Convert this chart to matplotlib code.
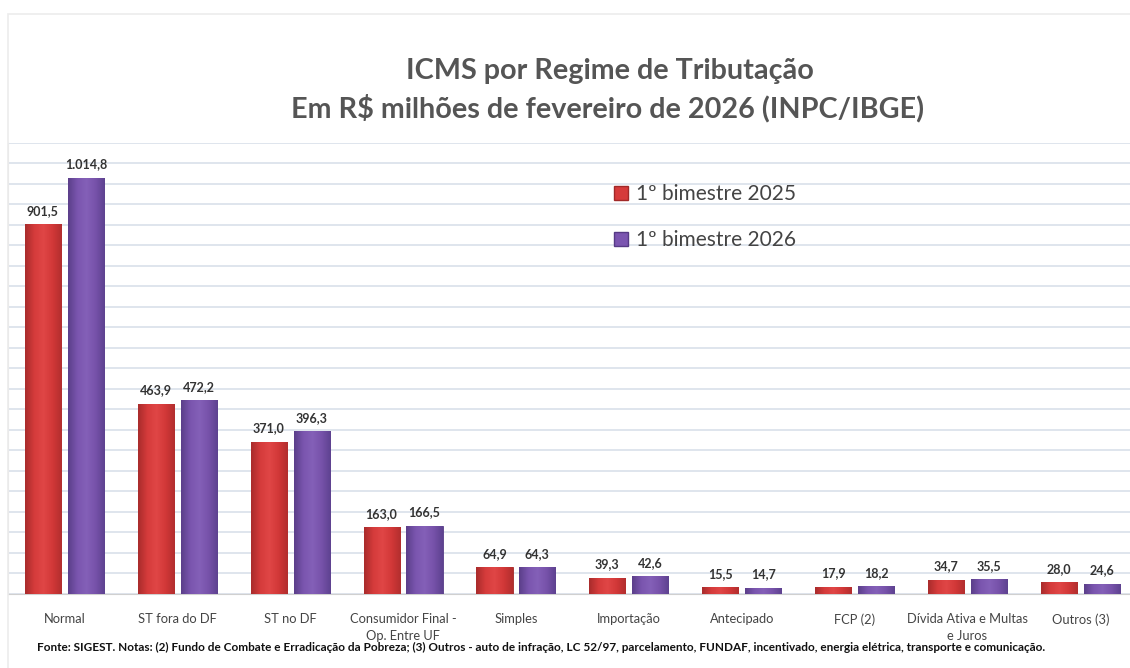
import matplotlib
matplotlib.use("Agg")
import matplotlib.pyplot as plt
import numpy as np
from matplotlib.colors import LinearSegmentedColormap
from matplotlib.patches import Patch, Rectangle

categories = ["Normal", "ST fora do DF", "ST no DF", "Consumidor Final -\nOp. Entre UF",
              "Simples", "Importação", "Antecipado", "FCP (2)",
              "Dívida Ativa e Multas\ne Juros", "Outros (3)"]
vals_2025 = [901.5, 463.9, 371.0, 163.0, 64.9, 39.3, 15.5, 17.9, 34.7, 28.0]
vals_2026 = [1014.8, 472.2, 396.3, 166.5, 64.3, 42.6, 14.7, 18.2, 35.5, 24.6]
series_names = ["1º bimestre 2025", "1º bimestre 2026"]

def fmt(v):
    s = f"{v:,.1f}"
    return s.replace(",", "X").replace(".", ",").replace("X", ".")

plt.rcParams['font.family'] = ['Lato', 'DejaVu Sans']

fig = plt.figure(figsize=(11.3, 6.68), dpi=100)
fig.patch.set_facecolor("white")
fig.patches.append(Rectangle((0.007, -0.01), 0.995, 0.989, transform=fig.transFigure,
                             fill=False, edgecolor="#ececec", linewidth=1.2))
ax = fig.add_axes([0.007, 0.111, 0.999, 0.675])

x = np.arange(len(categories))
w = 0.32
off = 0.19
red = "#d63a3a"
purple = "#7b55b0"
cmap_r = LinearSegmentedColormap.from_list("r", ["#a92c2c", "#d53b3b", "#e04646", "#d23838", "#b22e2e"])
cmap_p = LinearSegmentedColormap.from_list("p", ["#5b3f8a", "#7a55ae", "#8460b8", "#7752aa", "#5e4290"])
b1 = ax.bar(x - off, vals_2025, w, color=red, edgecolor="#a02828", linewidth=0.6, zorder=3)
b2 = ax.bar(x + off, vals_2026, w, color=purple, edgecolor="#563a85", linewidth=0.6, zorder=3)

grad = np.linspace(0, 1, 64).reshape(1, -1)
for bars, cm in ((b1, cmap_r), (b2, cmap_p)):
    for r in bars:
        x0, h, bw = r.get_x(), r.get_height(), r.get_width()
        im = ax.imshow(grad, cmap=cm, aspect="auto", extent=(x0, x0 + bw, 0, h),
                       zorder=3.5, interpolation="bicubic")
        im.set_clip_path(r)

for bars, vals in ((b1, vals_2025), (b2, vals_2026)):
    for r, v in zip(bars, vals):
        ax.text(r.get_x() + r.get_width() / 2, v + 18, fmt(v), ha="center", va="bottom",
                fontsize=9, color="#333333", fontweight="bold")

ax.set_xlim(-0.5, len(categories) - 0.5)
ax.set_ylim(0, 1100)
ax.set_yticks(np.arange(0, 1101, 50))
ax.yaxis.grid(True, color="#d9e0ea", linewidth=1.2, zorder=0)
ax.set_yticklabels([])
ax.tick_params(axis="y", length=0)
ax.set_xticks(x)
ax.set_xticklabels(categories, fontsize=9.3, color="#444444", linespacing=1.5)
ax.tick_params(axis="x", length=0, pad=14)
for s in ["top", "right"]:
    ax.spines[s].set_visible(False)
ax.spines["left"].set_color("#e4e4e4")
ax.spines["bottom"].set_color("#d0d0d0")

fig.text(0.540, 0.893, "ICMS por Regime de Tributação", ha="center", va="center",
         fontsize=20.7, fontweight="bold", color="#555555")
fig.text(0.538, 0.838, "Em R$ milhões de fevereiro de 2026 (INPC/IBGE)", ha="center", va="center",
         fontsize=20.7, fontweight="bold", color="#555555")

handles = [Patch(facecolor=red, edgecolor="#a02828"), Patch(facecolor=purple, edgecolor="#563a85")]
leg = fig.legend(handles, series_names, loc="upper left", bbox_to_anchor=(0.527, 0.752),
                 frameon=False, fontsize=15, handlelength=0.65, handleheight=0.65,
                 handletextpad=0.4, labelspacing=1.25, labelcolor="#444444")

fig.text(0.033, 0.030, "Fonte: SIGEST. Notas: (2) Fundo de Combate e Erradicação da Pobreza; (3) Outros - auto de infração, LC 52/97, parcelamento, FUNDAF, incentivado, energia elétrica, transporte e comunicação.",
         ha="left", va="center", fontsize=8.5, fontweight="bold", color="#111111")

fig.savefig("out.png", dpi=100, facecolor="white")
